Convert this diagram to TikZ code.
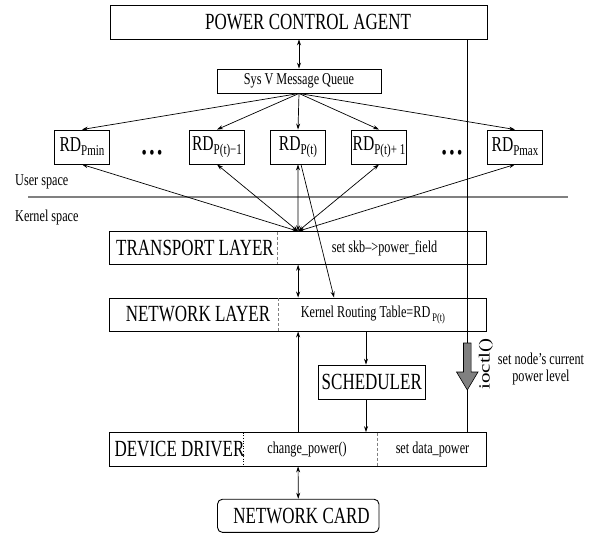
\documentclass[tikz,border=0pt]{standalone}
\usepackage{fontspec}
\setmainfont{Liberation Serif}
\usepackage{graphicx}
\usetikzlibrary{arrows.meta,calc}

\newcommand{\tallt}[1]{\scalebox{1}[1.36]{#1}}
\newcommand{\bigf}{\fontsize{17}{19}\selectfont}
\newcommand{\smallf}{\fontsize{12.2}{14}\selectfont}
\newcommand{\notef}{\fontsize{12.2}{16.6}\selectfont}
\newcommand{\rdlabel}[1]{\tallt{\fontsize{15.6}{17}\selectfont RD\raisebox{-3pt}{\fontsize{11}{12}\selectfont #1}}}

\tikzset{
  box/.style={draw, line width=0.9pt, inner sep=0pt},
  layer/.style={box, minimum width=377.2pt, minimum height=33pt},
  rdbox/.style={box, minimum width=54.5pt, minimum height=34pt},
  arr/.style={-{Stealth[length=6pt,width=4pt]}, line width=0.7pt},
  darr/.style={{Stealth[length=6pt,width=4pt]}-{Stealth[length=6pt,width=4pt]}, line width=0.7pt},
  divider/.style={gray, line width=0.8pt, dash pattern=on 3pt off 2pt},
  txt/.style={inner sep=0pt},
}

\begin{document}
\begin{tikzpicture}[x=1pt,y=-1pt]
    \useasboundingbox (0,0) rectangle (594,533);

    % user space
    \node[box, minimum width=377pt, minimum height=34pt] (pca) at (298.5,22) {};
    \node[txt] (pcatext) at (308,22) {\bigf\tallt{POWER CONTROL AGENT}};
    \node[box, minimum width=164pt, minimum height=24pt] (sysv) at (299,81) {\smallf\tallt{Sys V Message Queue}};

    \node[rdbox] (rdmin) at (82,147) {\rdlabel{Pmin}};
    \node[rdbox] (rdprev) at (217,147) {\rdlabel{P(t)\textminus1}};
    \node[rdbox] (rdt) at (298,147) {\rdlabel{P(t)}};
    \node[rdbox] (rdnext) at (379,147) {\rdlabel{P(t)+ 1}};
    \node[rdbox] (rdmax) at (515,147) {\rdlabel{Pmax}};
    \node[txt] (dotsl) at (152,155) {\fontsize{15}{15}\selectfont\tallt{\textbullet\,\textbullet\,\textbullet}};
    \node[txt] (dotsr) at (452,155) {\fontsize{15}{15}\selectfont\tallt{\textbullet\,\textbullet\,\textbullet}};

    \node[txt, anchor=west] (user) at (15,182) {\smallf\tallt{User space}};
    \node[txt, anchor=west] (kernel) at (15,218) {\smallf\tallt{Kernel space}};
    \draw[gray, line width=1.8pt] (28,197) -- (568,197);

    % kernel space
    \node[layer, minimum height=32.6pt] (tl) at (298.1,248) {};
    \node[txt] at (195,248) {\bigf\tallt{TRANSPORT LAYER}};
    \node[txt] at (384.5,248) {\smallf\tallt{set skb\textendash>power\_field}};
    \draw[divider] (277.7,231.7) -- (277.7,264.3);

    \node[layer] (nl) at (298.1,314.5) {};
    \node[txt] at (198,314.5) {\bigf\tallt{NETWORK LAYER}};
    \node[txt] at (373,315) {\smallf\tallt{Kernel Routing Table=RD\,\raisebox{-3pt}{\fontsize{8.5}{9}\selectfont P(t)}}};
    \draw[divider] (278.2,298) -- (278.2,331);

    \node[box, minimum width=106.4pt, minimum height=34.3pt] (sch) at (371.8,382.2) {\bigf\tallt{SCHEDULER}};

    \node[layer, minimum height=33.3pt] (dd) at (298.1,449.3) {};
    \node[txt] at (179.5,449.3) {\bigf\tallt{DEVICE DRIVER}};
    \node[txt] at (307,449.3) {\smallf\tallt{change\_power()}};
    \node[txt] at (432.5,449.3) {\smallf\tallt{set data\_power}};
    \draw[dotted, line width=0.6pt] (243.5,432.7) -- (243.5,466);
    \draw[divider] (377.5,432.7) -- (377.5,466);

    \node[box, rounded corners=5pt, minimum width=161.5pt, minimum height=33.2pt] (nc) at (298.25,515.8) {};
    \node[txt] at (301.5,515.8) {\bigf\tallt{NETWORK CARD}};

    % connectors
    \coordinate (ctl) at (467,0);
    \coordinate (skx) at (366,0);
    \draw[darr] (pca.south -| sysv.north) -- (sysv.north);
    \foreach \rd in {rdmin,rdprev,rdt,rdnext,rdmax}
        \draw[arr] (sysv.south) -- (\rd.north);
    \foreach \rd in {rdmin,rdprev,rdt,rdnext,rdmax}
        \draw[darr] (tl.north) -- (\rd.south);
    \draw[arr] ($(rdt.south)+(3,0)$) -- ($(nl.north west)+(225,0)$);
    \draw[darr] (tl.south) -- (nl.north);
    \draw[arr] (dd.north) -- (nl.south);
    \draw[arr] (nl.south -| skx) -- (sch.north -| skx);
    \draw[arr] (sch.south -| skx) -- (dd.north -| skx);
    \draw[darr] (dd.south) -- (nc.north);
    \draw[line width=0.7pt] (pca.south -| ctl) -- (dd.north -| ctl);

    \draw[line width=0.6pt, fill=gray] (463.5,343) -- (471.1,343) -- (471.1,372) -- (478,372)
        -- (467.3,390) -- (456.5,372) -- (463.5,372) -- cycle;
    \node[txt, rotate=90] (ioc) at (486,364) {\scalebox{1.36}[1]{\fontsize{15.5}{17}\selectfont ioctl()}};
    \node[txt, align=center, font=\notef] (iocnote) at (541,369) {\tallt{set node's current}\\\tallt{power level}};
\end{tikzpicture}
\end{document}
